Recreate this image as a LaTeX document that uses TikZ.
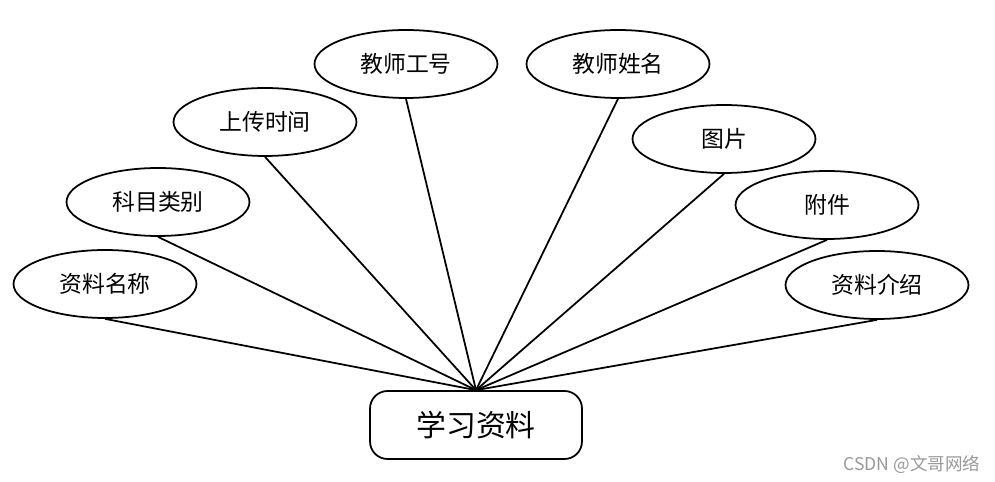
\documentclass[tikz,border=0pt]{standalone}
\usepackage{fontspec}
\newfontfamily\cjk{Noto Sans CJK SC}
\usetikzlibrary{shapes.geometric}
\tikzset{
  attr/.style={draw,ellipse,line width=1pt,minimum width=3.66cm,minimum height=1.36cm,inner sep=0pt,font=\cjk\fontsize{13}{15}\selectfont},
  entity/.style={draw,rounded corners=0.35cm,line width=1pt,minimum width=4.24cm,minimum height=1.36cm,font=\cjk\fontsize{17}{19}\selectfont},
  link/.style={line width=1pt}
}
\begin{document}
\begin{tikzpicture}[x=0.02cm,y=-0.02cm]
\useasboundingbox (0,0) rectangle (995,482);
\node[entity] (xxzl) at (476,425) {学习资料};
\node[attr] (zlmc) at (105,284) {资料名称};
\node[attr] (kmlb) at (158,202) {科目类别};
\node[attr] (scsj) at (265,122) {上传时间};
\node[attr] (jsgh) at (406,64) {教师工号};
\node[attr] (jsxm) at (618,64) {教师姓名};
\node[attr] (tp) at (724,139) {图片};
\node[attr] (fj) at (827,205) {附件};
\node[attr] (zljs) at (877,285) {资料介绍};
\draw[link] (xxzl.north) -- (zlmc.south);
\draw[link] (xxzl.north) -- (kmlb.south);
\draw[link] (xxzl.north) -- (scsj.south);
\draw[link] (xxzl.north) -- (jsgh.south);
\draw[link] (xxzl.north) -- (jsxm.south);
\draw[link] (xxzl.north) -- (tp.south);
\draw[link] (xxzl.north) -- (fj.south);
\draw[link] (xxzl.north) -- (zljs.south);
\node[text=gray!80,font=\cjk\fontsize{10}{12}\selectfont] (wm) at (912,465) {CSDN @文哥网络};
\end{tikzpicture}
\end{document}
